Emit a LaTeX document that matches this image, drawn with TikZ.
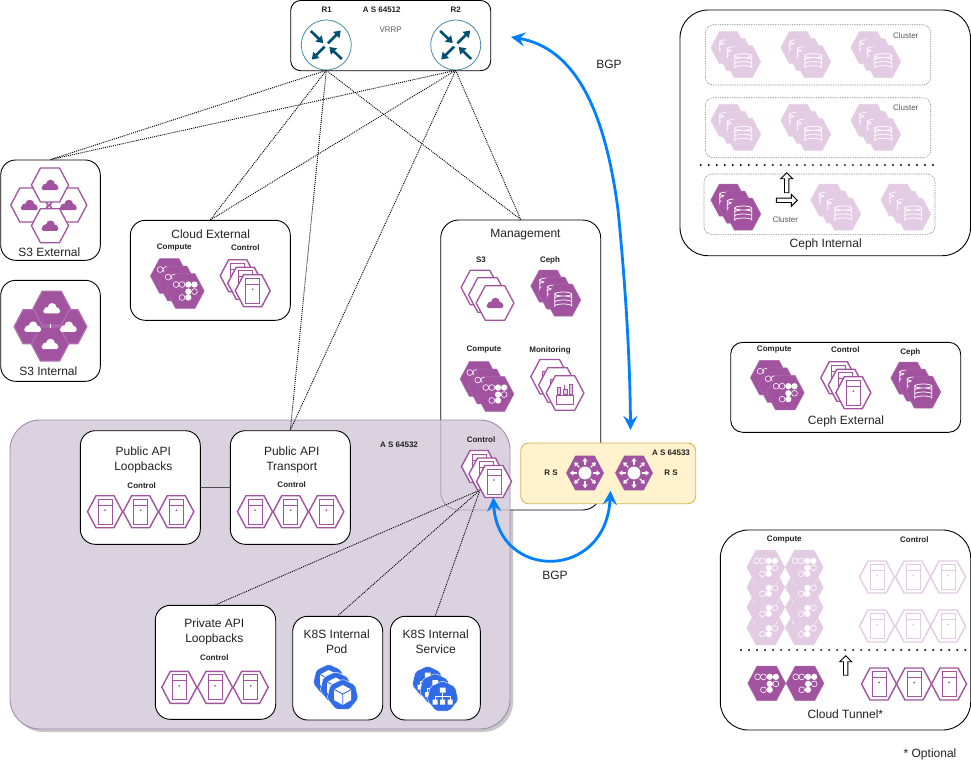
\documentclass[tikz,border=0pt]{standalone}
\usepackage{fontspec}
\setmainfont{Liberation Sans}
\usetikzlibrary{arrows.meta}
\definecolor{pur}{HTML}{A153A0}
\definecolor{lpu}{HTML}{E3CBE3}
\definecolor{k8s}{HTML}{326CE5}
\definecolor{rt}{HTML}{005073}
\definecolor{rtl}{HTML}{4B8CA6}
\definecolor{bgp}{HTML}{007FFF}
\definecolor{tx}{HTML}{222222}
\definecolor{regionc}{HTML}{D2C7D8}
\definecolor{regione}{HTML}{9673A6}
\tikzset{
  box/.style={draw=black,fill=white,line width=.9pt,rounded corners=#1,inner sep=0pt},
  box/.default=15pt,
  dbox/.style={draw=gray,line width=.6pt,dash pattern=on 1.2pt off 1.2pt,rounded corners=8pt,inner sep=0pt},
  lt/.style={font=\fontsize{12}{15}\selectfont,text=tx,inner sep=0pt,align=center},
  sb/.style={font=\bfseries\fontsize{8}{10}\selectfont,text=tx,inner sep=0pt},
  sr/.style={font=\fontsize{8}{10}\selectfont,text=black!65,inner sep=0pt},
  dotc/.style={draw=black,line width=.9pt,dash pattern=on 1pt off 1pt},
  sep/.style={draw=black,line width=2.2pt,line cap=round,dash pattern=on 0.01pt off 8pt},
  bgpa/.style={draw=bgp,line width=2.8pt,{Stealth[length=14pt,width=14pt,inset=5pt]}-{Stealth[length=14pt,width=14pt,inset=5pt]}},
  router/.style={circle,draw=rtl,fill=white,line width=.8pt,minimum size=50pt,inner sep=0pt},
  rta/.style={draw=rt,line width=2.6pt,-{Triangle[length=6.5pt,width=8.5pt]}},
}
\newcommand\HexP{(-17.5,0) -- (-9,-16) -- (9,-16) -- (17.5,0) -- (9,16) -- (-9,16) -- cycle}
% outlined server hexagon
\newcommand\Srv[4]{\begin{scope}[shift={(#1,#2)},scale=#3]
  \draw[line width=1.4pt,draw=#4,fill=white] \HexP;
  \draw[line width=.8pt,draw=#4] (-7,-12.5) rectangle (7,12.5) (-7,-6.5) -- (7,-6.5);
  \fill[#4] (0,-1.5) circle (1);
\end{scope}}
\newcommand\SrvS[4]{\Srv{#1-15}{#2-15}{#3}{#4}\Srv{#1-7.5}{#2-7.5}{#3}{#4}\Srv{#1}{#2}{#3}{#4}}
% compute hexagon
\newcommand\Cmp[4]{\begin{scope}[shift={(#1,#2)},scale=#3]
  \draw[line width=.5pt,draw=#4!88!white,fill=#4] \HexP;
  \draw[white,line width=.6pt] (-8.5,-6) circle (2.7) (-3,-6) circle (2.7) (8.5,0.5) circle (2.7) (-3,6) circle (2.7);
  \fill[white] (2.8,-6) circle (2.9) (8.5,-6) circle (2.9) (2.8,0.5) circle (2.9) (2.8,6) circle (2.9);
\end{scope}}
\newcommand\CmpS[4]{\Cmp{#1-16}{#2-15}{#3}{#4}\Cmp{#1-8}{#2-7.5}{#3}{#4}\Cmp{#1}{#2}{#3}{#4}}
% ceph hexagon
\newcommand\Cph[4]{\begin{scope}[shift={(#1,#2)},scale=#3]
  \draw[line width=.5pt,draw=#4!88!white,fill=#4] \HexP;
  \draw[white,line width=.75pt] (-8.5,-6) arc[start angle=180,end angle=540,x radius=8.5,y radius=2]
    -- (-8.5,6) arc[start angle=180,end angle=360,x radius=8.5,y radius=2] -- (8.5,-6)
    (-8.5,-2) arc[start angle=180,end angle=360,x radius=8.5,y radius=2]
    (-8.5,2) arc[start angle=180,end angle=360,x radius=8.5,y radius=2];
\end{scope}}
\newcommand\CphS[4]{\Cph{#1-15}{#2-14}{#3}{#4}\Cph{#1-7.5}{#2-7}{#3}{#4}\Cph{#1}{#2}{#3}{#4}}
% cloud hexagon: stroke, fill
\newcommand\Cld[5]{\begin{scope}[shift={(#1,#2)},scale=#3]
  \draw[line width=1.3pt,draw=#4,fill=#5] \HexP;
\end{scope}}
\newcommand\CloudI[4]{\begin{scope}[shift={(#1,#2)},scale=#3]
  \fill[#4,rounded corners=1.5pt] (-9,1) rectangle (9,5.5);
  \fill[#4] (-5,1.8) circle (3.2) (0.5,-1) circle (4.7) (5.5,2) circle (3);
\end{scope}}
% monitoring hexagon
\newcommand\Mon[3]{\begin{scope}[shift={(#1,#2)},scale=#3]
  \draw[line width=1.3pt,draw=pur,fill=white] \HexP;
  \draw[line width=.8pt,draw=pur] (-8,2) rectangle (8,11);
  \draw[line width=.6pt,draw=pur,fill=lpu] (-7,-5) rectangle (-4,1) (-1.5,-3) rectangle (2,1) (4,-8) rectangle (7,1);
  \draw[line width=.6pt,draw=pur] (-0.2,-3) -- (-0.2,-7);
\end{scope}}
% route server hexagon
\newcommand\Rs[3]{\begin{scope}[shift={(#1,#2)},scale=#3]
  \fill[pur] \HexP;
  \fill[white] (0,0) circle (6);
  \foreach \a in {0,45,...,315}{
    \draw[white,line width=1.1pt,-{Triangle[length=3.4pt,width=5pt]}] (\a:7.5) -- (\a:14);}
\end{scope}}
\newcommand\HeptP{(0,-16) -- (12.5,-10) -- (15.6,3.6) -- (6.9,14.4) -- (-6.9,14.4) -- (-15.6,3.6) -- (-12.5,-10) -- cycle}
\newcommand\Pod[2]{\begin{scope}[shift={(#1,#2)}]
  \draw[fill=k8s,line width=.4pt,rounded corners=2pt,draw=white] \HeptP;
  \fill[white] (0,-10) -- (8.5,-5.5) -- (8.5,5) -- (0,10) -- (-8.5,5) -- (-8.5,-5.5) -- cycle;
  \draw[k8s,line width=.9pt] (-8.5,-5.5) -- (0,-1) -- (8.5,-5.5) (0,-1) -- (0,10);
\end{scope}}
\newcommand\Svc[2]{\begin{scope}[shift={(#1,#2)}]
  \draw[fill=k8s,line width=.4pt,rounded corners=2pt,draw=white] \HeptP;
  \fill[white] (-2.8,-9) rectangle (2.8,-4) (-10,3) rectangle (-5,8) (-2.5,3) rectangle (2.5,8) (5,3) rectangle (10,8);
  \draw[white,line width=.8pt] (0,-4) -- (0,3) (-7.5,3) -- (-7.5,-0.5) -- (7.5,-0.5) -- (7.5,3);
\end{scope}}
\newcommand\RtrArrows[2]{\begin{scope}[shift={(#1,#2)}]
  \draw[rta] (-15.5,-14) -- (-3,-2);
  \draw[rta] (1.7,-1.7) -- (14.5,-14.5);
  \draw[rta] (-1.7,1.7) -- (-14.5,14.5);
  \draw[rta] (15.5,14) -- (3,2);
\end{scope}}
\newcommand\BlockUp[3]{\begin{scope}[shift={(#1,#2)}]
  \draw[black,fill=white,line width=.9pt] (-2.2,#3) -- (-2.2,6) -- (-6,6) -- (0,0) -- (6,6) -- (2.2,6) -- (2.2,#3) -- cycle;
\end{scope}}
\newcommand\BlockRight[3]{\begin{scope}[shift={(#1,#2)}]
  \draw[black,fill=white,line width=.9pt] (-#3,-2.2) -- (-6,-2.2) -- (-6,-6) -- (0,0) -- (-6,6) -- (-6,2.2) -- (-#3,2.2) -- cycle;
\end{scope}}
\begin{document}
\begin{tikzpicture}[x=1pt,y=-1pt]
\useasboundingbox (0,0) rectangle (971,771);
\fill[white] (0,0) rectangle (971,771);

% shaded AS 64532 region
\node[fill=black!22,rounded corners=30pt,inner sep=0pt,minimum width=500pt,minimum height=309pt] (regshadow) at (263,577.5) {};
\node[fill=white,rounded corners=30pt,inner sep=0pt,minimum width=500pt,minimum height=309pt] (regbase) at (260,574.5) {};
\node[box=18pt,minimum width=160pt,minimum height=290pt] (mgmt) at (520.7,365) {};
\node[fill=regionc,draw=regione,line width=.9pt,opacity=.8,rounded corners=30pt,inner sep=0pt,minimum width=500pt,minimum height=309pt] (region) at (260,574.5) {};

% boxes
\node[box=10pt,minimum width=200pt,minimum height=70.2pt] (routers) at (390.7,35.6) {};
\node[box,minimum width=99.6pt,minimum height=100.3pt] (s3ext) at (50.5,210.15) {};
\node[box,minimum width=99.6pt,minimum height=101pt] (s3int) at (50.5,330.8) {};
\node[box,minimum width=160pt,minimum height=100pt] (cloudext) at (210.3,270.3) {};
\node[box,minimum width=120pt,minimum height=113.6pt] (publoop) at (140.3,487.5) {};
\node[box,minimum width=120pt,minimum height=113.6pt] (pubtrans) at (290.3,487.5) {};
\node[box,minimum width=120.4pt,minimum height=114pt] (privloop) at (215.5,662.3) {};
\node[box,minimum width=90pt,minimum height=103.7pt] (k8spod) at (337.7,668.15) {};
\node[box,minimum width=90pt,minimum height=103.7pt] (k8ssvc) at (435.3,668.15) {};
\node[box=28pt,minimum width=290.5pt,minimum height=245.7pt] (cephint) at (825.25,132.85) {};
\node[box=12pt,minimum width=230pt,minimum height=90pt] (cephext) at (845.7,387.3) {};
\node[box=28pt,minimum width=250.4pt,minimum height=200pt] (tunnel) at (845.5,630) {};
\node[dbox,minimum width=225.4pt,minimum height=60.3pt] (clu1) at (818,54.85) {};
\node[dbox,minimum width=225.4pt,minimum height=60pt] (clu2) at (818,127.7) {};
\node[dbox,minimum width=231pt,minimum height=60.3pt] (clu3) at (819.5,204.15) {};

% routers
\node[router] (R1) at (326.3,45) {};
\node[router] (R2) at (455.7,45) {};
\RtrArrows{326.3}{45}
\RtrArrows{455.7}{45}

% connectors
\coordinate (ctl) at (480,490);
\foreach \r in {R1,R2}{
  \draw[dotc] (\r.south) -- (s3ext.north);
  \draw[dotc] (\r.south) -- (cloudext.north);
  \draw[dotc] (\r.south) -- (pubtrans.north);
  \draw[dotc] (\r.south) -- (mgmt.north);
}
\draw[dotc] (ctl) -- (privloop.north);
\draw[dotc] (ctl) -- (k8spod.north);
\draw[dotc] (ctl) -- (k8ssvc.north);
\draw[draw=black!70,line width=.8pt] (publoop.east) -- (pubtrans.west);

% router texts
\node[sb] (tR1) at (326.7,10) {R1};
\node[sb] (tR2) at (455.7,10) {R2};
\node[sb] (tAS1) at (381.7,10) {A S 64512};
\node[sr] (tVRRP) at (390.7,30) {VRRP};

% S3 External
\Cld{29.3}{205}{1.06}{pur}{white}
\Cld{68.3}{205}{1.06}{pur}{white}
\draw[pur,line width=.8pt] (47,203) -- (52,208) (52,203) -- (47,208);
\Cld{50}{185}{1.06}{pur}{white}
\Cld{50}{225.7}{1.06}{pur}{white}
\CloudI{29.3}{205}{.93}{pur}\CloudI{68.3}{205}{.93}{pur}\CloudI{50}{185}{.93}{pur}\CloudI{50}{225.7}{.93}{pur}
\node[lt] (tS3E) at (49.3,252.3) {S3 External};
% S3 Internal
\Cld{32.7}{326.7}{1.06}{pur!85!white}{pur}
\Cld{68.3}{326.7}{1.06}{pur!85!white}{pur}
\Cld{51.7}{308.3}{1.06}{pur!85!white}{pur}
\Cld{50}{344}{1.06}{pur!85!white}{pur}
\CloudI{32.7}{326.7}{.93}{white}\CloudI{68.3}{326.7}{.93}{white}\CloudI{51.7}{308.3}{.93}{white}\CloudI{50}{344}{.93}{white}
\draw[white,line width=.7pt] (50,324) -- (50,328);
\node[lt] (tS3I) at (48.3,371.7) {S3 Internal};

% Cloud External
\node[lt] (tCE) at (210.7,234.3) {Cloud External};
\node[sb] (tCEa) at (174.3,248) {Compute};
\node[sb] (tCEb) at (245.3,248) {Control};
\CmpS{185.3}{291}{1.08}{pur}
\SrvS{252.7}{290.7}{1}{pur}

% Management
\node[lt] (tMg) at (525.5,235) {Management};
\node[sb] (tMa) at (481,260) {S3};
\node[sb] (tMb) at (550,260) {Ceph};
\node[sb] (tMc) at (484,350) {Compute};
\node[sb] (tMd) at (550,350) {Monitoring};
\node[sb] (tMe) at (481,440) {Control};
\Cld{480}{287.5}{1.08}{pur}{white}\Cld{487.5}{295}{1.08}{pur}{white}\Cld{495}{303}{1.08}{pur}{white}\CloudI{495}{303}{.93}{pur}
\CphS{563.3}{300}{1}{pur}
\CmpS{495}{394}{1.08}{pur}
\Mon{549.7}{376.7}{1.08}\Mon{557.5}{385}{1.08}\Mon{565}{393}{1.08}
\SrvS{494}{481.5}{1}{pur}

% region texts
\node[sb] (tAS3) at (399,445) {A S 64532};
\node[lt] (tPL) at (143.3,460.2) {Public API\\Loopbacks};
\node[sb] (tPLc) at (141.7,485.3) {Control};
\Srv{105}{511.7}{1}{pur}\Srv{140.7}{511.7}{1}{pur}\Srv{176.3}{511.7}{1}{pur}
\node[lt] (tPT) at (291.7,460.2) {Public API\\Transport};
\node[sb] (tPTc) at (291.7,484.3) {Control};
\Srv{255}{511.7}{1}{pur}\Srv{290.7}{511.7}{1}{pur}\Srv{326.3}{511.7}{1}{pur}
\node[lt] (tPV) at (214.3,631.5) {Private API\\Loopbacks};
\node[sb] (tPVc) at (214.3,657.7) {Control};
\Srv{179.3}{687.3}{1}{pur}\Srv{215}{687.3}{1}{pur}\Srv{250.7}{687.3}{1}{pur}
\node[lt] (tK1) at (336.7,642.2) {K8S Internal\\Pod};
\Pod{328.7}{680}\Pod{335.7}{687.5}\Pod{342.7}{695}
\node[lt] (tK2) at (435.7,642.2) {K8S Internal\\Service};
\Svc{427.7}{681.7}\Svc{435.2}{689.2}\Svc{442.7}{696.7}

% route servers
\node[draw={rgb,255:red,214;green,182;blue,86},fill={rgb,255:red,255;green,242;blue,204},line width=.9pt,rounded corners=8pt,inner sep=0pt,minimum width=175pt,minimum height=60.7pt] (rsbox) at (608.2,473.35) {};
\Rs{585}{473}{1.08}
\Rs{634}{473}{1.08}
\node[sb] (tRS1) at (551,473) {R S};
\node[sb] (tRS2) at (671,473) {R S};
\node[sb] (tAS2) at (671,453) {A S 64533};

% BGP arrows
\coordinate (bgpA) at (511,37);
\coordinate (bgpB) at (630.5,430);
\coordinate (bgpC) at (493.3,497.3);
\coordinate (bgpD) at (610.5,490.7);
\draw[bgpa] (bgpA) .. controls (575,48) and (605,110) .. (618,210) .. controls (624,270) and (630,350) .. (bgpB);
\draw[bgpa] (bgpC) .. controls (498,581) and (606,581) .. (bgpD);
\node[lt] (tBGP1) at (609,64) {BGP};
\node[lt] (tBGP2) at (555,575) {BGP};

% Ceph Internal
\node[lt] (tCI) at (825.7,244.5) {Ceph Internal};
\node[sr] (tC1) at (905.7,36) {Cluster};
\node[sr] (tC2) at (905.7,107.3) {Cluster};
\node[sr] (tC3) at (785.3,220) {Cluster};
\CphS{743.3}{61.7}{1}{lpu}\CphS{813.3}{61.7}{1}{lpu}\CphS{883.3}{61.7}{1}{lpu}
\CphS{743.3}{134.3}{1}{lpu}\CphS{813.3}{134.3}{1}{lpu}\CphS{883.3}{134.3}{1}{lpu}
\CphS{743.3}{214}{1}{pur}\CphS{843.3}{214}{1}{lpu}\CphS{913.3}{214}{1}{lpu}
\coordinate (sepAa) at (700.7,164.7);
\coordinate (sepAb) at (936,164.7);
\draw[sep] (sepAa) -- (sepAb);
\BlockUp{786.7}{172.7}{20}
\BlockRight{797.3}{200.3}{21}

% Ceph External
\node[sb] (tCXa) at (774.3,350) {Compute};
\node[sb] (tCXb) at (845.3,350) {Control};
\node[sb] (tCXc) at (910.3,352) {Ceph};
\CmpS{785.3}{392.7}{1.08}{pur}
\SrvS{853.3}{392.7}{1}{pur}
\CphS{923.3}{392}{1}{pur}
\node[lt] (tCX) at (846,421.7) {Ceph External};

% Cloud Tunnel
\node[sb] (tCTa) at (784.3,540) {Compute};
\node[sb] (tCTb) at (914.3,540) {Control};
\foreach \yy in {627.7,607.3,587.3,567.3}{
  \Cmp{765.7}{\yy}{1.08}{lpu}
  \Cmp{804.3}{\yy}{1.08}{lpu}
}
\foreach \yy in {577,626}{
  \Srv{877}{\yy}{1}{lpu}\Srv{913}{\yy}{1}{lpu}\Srv{948}{\yy}{1}{lpu}
}
\coordinate (sepBa) at (741,650.3);
\coordinate (sepBb) at (967,650.3);
\draw[sep] (sepBa) -- (sepBb);
\BlockUp{845.7}{655.7}{19.5}
\Cmp{766.7}{683.3}{1.08}{pur}
\Cmp{805}{683.3}{1.08}{pur}
\Srv{879}{684}{1}{pur}\Srv{914}{684}{1}{pur}\Srv{949}{684}{1}{pur}
\node[lt] (tCT) at (845.3,714.7) {Cloud Tunnel*};
\node[lt] (tOpt) at (930,754.7) {* Optional};
\end{tikzpicture}
\end{document}
